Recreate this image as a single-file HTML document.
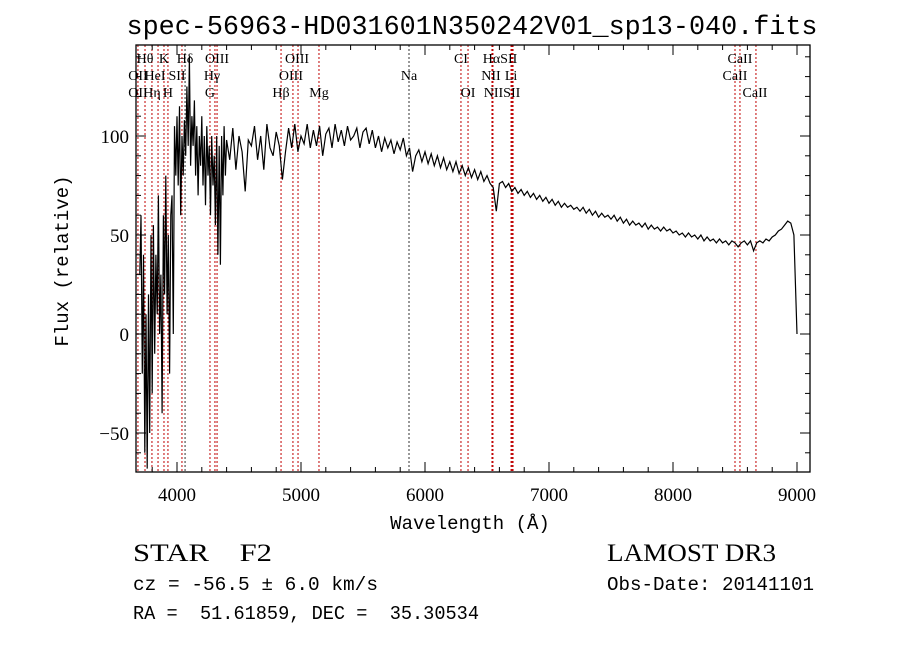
<!DOCTYPE html>
<html><head><meta charset="utf-8"><style>
body{margin:0;background:#fff}
svg{display:block}
.serif{font-family:"Liberation Serif",serif}
.mono{font-family:"Liberation Mono",monospace}
</style></head><body>
<svg id="chart" width="900" height="649" viewBox="0 0 900 649" xmlns="http://www.w3.org/2000/svg">
<rect width="900" height="649" fill="#fff"/>
<text class="mono" x="472" y="34" font-size="27" text-anchor="middle" textLength="691" lengthAdjust="spacingAndGlyphs">spec-56963-HD031601N350242V01_sp13-040.fits</text>
<g id="lines"></g>
<g id="labels"></g>
<path id="spec" fill="none" stroke="#000" stroke-width="1.2"/>
<g id="axes"></g>
<text class="mono" x="470" y="529" font-size="19" text-anchor="middle">Wavelength (Å)</text>
<text class="mono" x="0" y="0" font-size="19" text-anchor="middle" transform="translate(68,261) rotate(-90)">Flux (relative)</text>
<text class="serif" x="133" y="561" font-size="25" xml:space="preserve" textLength="139" lengthAdjust="spacingAndGlyphs">STAR    F2</text>
<text class="mono" x="133" y="590" font-size="19" textLength="245" lengthAdjust="spacingAndGlyphs">cz = -56.5 ± 6.0 km/s</text>
<text class="mono" x="133" y="619" font-size="19" xml:space="preserve" textLength="346" lengthAdjust="spacingAndGlyphs">RA =  51.61859, DEC =  35.30534</text>
<text class="serif" x="607" y="561" font-size="25" textLength="169" lengthAdjust="spacingAndGlyphs">LAMOST DR3</text>
<text class="mono" x="607" y="590" font-size="19" textLength="207" lengthAdjust="spacingAndGlyphs">Obs-Date: 20141101</text>
</svg>
<script>
const blueStart=3700, blueStep=10;
const blueFlux=[30,60,-20,40,-60,10,-68,20,-50,50,-30,55,-10,40,10,70,0,30,-40,60,20,80,10,50,-20,60,70,0,105,80,110,75,115,60,100,80,108,90,125,95,140,85,110,95,118,80,105,70,100,85,110,75,100,65,105,80,95,60,100,75,90,55,100,40,95,35,100,70,105,80,98];
const redStart=4425, redStep=25;
const redFlux=[88,104,83,100,92,72,98,95,105,88,100,83,106,94,90,102,95,78,92,104,94,106,92,100,
96,106,94,103,95,105,90,101,104,94,106,97,103,95,105,98,100,104,94,102,104,96,103,94,100,92,99,94,98,91,97,93,99,90,94,82,90,93,87,92,
86,91,85,90,84,89,83,87,82,87,81,85,80,84,79,83,78,82,77,80,76,74,62,76,77,74,76,72,74,71,73,70,72,69,71,68,70,67,69,66,
68,65,67,64,66,64,65,63,64,62,64,61,63,60,62,59,61,59,60,58,60,57,59,56,58,55,57,55,56,54,56,53,55,53,54,52,54,52,53,51,
52,50,51,49,51,49,50,48,50,47,49,47,48,46,48,46,47,45,47,46,44,46,47,45,47,42,46,47,46,48,47,49,50,52,53,55,57,56,50,0];
const lineWaves=[3685,3742,3798,3847,3895,3927,4040,4065,4266,4306,4323,4839,4935,4976,5145,5871,6290,6347,6540,6548,6694,6702,6710,8500,8540,8669];
const lineDark=[0,0,0,0,0,0,0,1,0,0,0,0,0,0,0,1,0,0,0,0,0,0,0,0,0,0];
const labelText=["Hθ","K","Hδ","OIII","OIII","CI","HαSII","CaII","OII","HeI","SII","Hγ","OIII","Na","NII","Li","CaII","OII","Hη","H","G","Hβ","Mg","OI","NIISII","CaII"];
const labelWave=[3742,3895,4065,4323,4968,6290,6605,8540,3685,3823,4000,4282,4919,5871,6532,6694,8500,3685,3798,3927,4266,4839,5145,6347,6621,8661];
const labelRow=[0,0,0,0,0,0,0,0,1,1,1,1,1,1,1,1,1,2,2,2,2,2,2,2,2,2];
const xTicks=[4000,5000,6000,7000,8000,9000];
const yTicks=[-50,0,50,100];
const L=136,R=810,T=45,B=472;
const xs=w=>177+(w-4000)*0.124;
const ys=v=>334-v*1.98;
const ns="http://www.w3.org/2000/svg";
function mk(t,a,p){const e=document.createElementNS(ns,t);for(const k in a)e.setAttribute(k,a[k]);p.appendChild(e);return e;}
const gl=document.getElementById('lines');
lineWaves.forEach((w,i)=>{const e=mk('line',{x1:xs(w),x2:xs(w),y1:T,y2:B,stroke:lineDark[i]?'#333':'#c00000','stroke-width':1,'stroke-dasharray':'2,2'},gl);

});
const glb=document.getElementById('labels');
labelText.forEach((t,i)=>{const e=mk('text',{x:xs(labelWave[i]),y:63+labelRow[i]*17,'font-size':14,'text-anchor':'middle',class:'serif'},glb);e.textContent=t;

});
let pts=[];
blueFlux.forEach((v,i)=>pts.push([blueStart+i*blueStep,v]));
redFlux.forEach((v,i)=>pts.push([redStart+i*redStep,v]));
document.getElementById('spec').setAttribute('d',pts.map((p,i)=>(i?'L':'M')+xs(p[0]).toFixed(1)+','+Math.max(T,Math.min(B,ys(p[1]))).toFixed(1)).join(''));
const ga=document.getElementById('axes');
const fr=mk('rect',{x:L,y:T,width:R-L,height:B-T,fill:'none',stroke:'#000','stroke-width':1.3},ga);


for(let w=3800;w<=9100;w+=200){const x=xs(w);if(x<L||x>R)continue;const len=w%1000===0?10:5;
mk('line',{x1:x,x2:x,y1:B,y2:B-len,stroke:'#000'},ga);mk('line',{x1:x,x2:x,y1:T,y2:T+len,stroke:'#000'},ga);}
for(let v=-60;v<=140;v+=10){const y=ys(v);if(y<T||y>B)continue;const len=v%50===0?10:5;
mk('line',{x1:L,x2:L+len,y1:y,y2:y,stroke:'#000'},ga);mk('line',{x1:R,x2:R-len,y1:y,y2:y,stroke:'#000'},ga);}
xTicks.forEach(w=>{const e=mk('text',{x:xs(w),y:501,'font-size':19,'text-anchor':'middle',class:'serif'},ga);e.textContent=w;

});
yTicks.forEach(v=>{const e=mk('text',{x:129,y:ys(v)+7,'font-size':19,'text-anchor':'end',class:'serif'},ga);e.textContent=v<0?'−'+(-v):v;

});
</script>
</body></html>
